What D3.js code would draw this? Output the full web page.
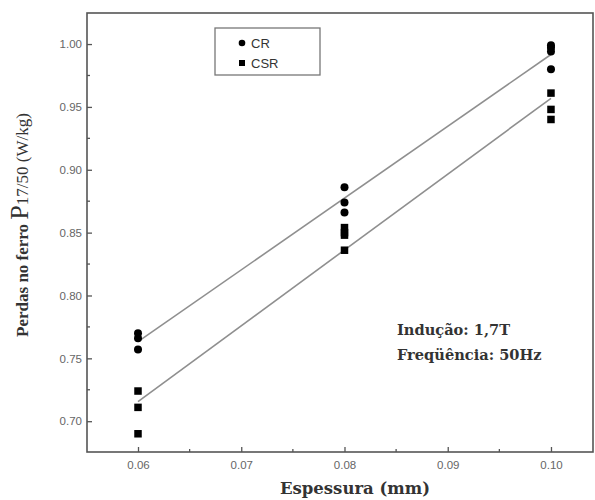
<!DOCTYPE html>
<html>
<head>
<meta charset="utf-8">
<script src="https://cdn.jsdelivr.net/npm/d3@7"></script>
<style>
  html, body { margin: 0; padding: 0; background: #fff; }
  svg { display: block; }
</style>
</head>
<body>
<script>
// Thickness (mm) at which each lamination group was measured
const thicknessCR  = [0.06, 0.06, 0.06, 0.08, 0.08, 0.08, 0.10, 0.10, 0.10, 0.10];
const lossCR       = [0.770, 0.766, 0.757, 0.886, 0.874, 0.866, 0.999, 0.997, 0.994, 0.980];
const thicknessCSR = [0.06, 0.06, 0.06, 0.08, 0.08, 0.08, 0.08, 0.10, 0.10, 0.10];
const lossCSR      = [0.724, 0.711, 0.690, 0.854, 0.850, 0.848, 0.836, 0.961, 0.948, 0.940];

const xTicks = [0.06, 0.07, 0.08, 0.09, 0.10];
const yTicks = [0.70, 0.75, 0.80, 0.85, 0.90, 0.95, 1.00];
const seriesNames = ["CR", "CSR"];

const W = 595, H = 500;
const plot = { left: 87, right: 593, top: 13, bottom: 452 };

const svg = d3.select("body").append("svg").attr("width", W).attr("height", H);

const x = d3.scaleLinear().domain([0.05506, 0.10407]).range([plot.left, plot.right]);
const y = d3.scaleLinear().domain([0.6755, 1.0247]).range([plot.bottom, plot.top]);

const axisColor = "#555";

// least-squares line through a series
function fit(xs, ys) {
  const mx = d3.mean(xs), my = d3.mean(ys);
  let sxy = 0, sxx = 0;
  for (let i = 0; i < xs.length; i++) { sxy += (xs[i] - mx) * (ys[i] - my); sxx += (xs[i] - mx) ** 2; }
  const b = sxy / sxx;
  return v => my + b * (v - mx);
}

// fitted lines
[[thicknessCR, lossCR], [thicknessCSR, lossCSR]].forEach(([xs, ys]) => {
  const f = fit(xs, ys);
  const x0 = d3.min(xs), x1 = d3.max(xs);
  svg.append("line")
    .attr("x1", x(x0)).attr("y1", y(f(x0)))
    .attr("x2", x(x1)).attr("y2", y(f(x1)))
    .attr("stroke", "#8f8f8f").attr("stroke-width", 1.6);
});

// CR points (circles)
svg.append("g").selectAll("circle")
  .data(lossCR.map((v, i) => [thicknessCR[i], v]))
  .join("circle")
  .attr("cx", d => x(d[0])).attr("cy", d => y(d[1]))
  .attr("r", 4).attr("fill", "#000");

// CSR points (squares)
const sq = 7.5;
svg.append("g").selectAll("rect")
  .data(lossCSR.map((v, i) => [thicknessCSR[i], v]))
  .join("rect")
  .attr("x", d => x(d[0]) - sq / 2).attr("y", d => y(d[1]) - sq / 2)
  .attr("width", sq).attr("height", sq).attr("fill", "#000");

// frame
svg.append("rect")
  .attr("x", plot.left).attr("y", plot.top)
  .attr("width", plot.right - plot.left).attr("height", plot.bottom - plot.top)
  .attr("fill", "none").attr("stroke", axisColor).attr("stroke-width", 1.6);

const tickFont = sel => sel.attr("fill", "#666")
  .style("font-family", "Liberation Sans, Arial, sans-serif").style("font-size", "11.5px");

// x axis (ticks pointing inward)
const xAxis = d3.axisBottom(x).tickValues(xTicks).tickFormat(d3.format(".2f"))
  .tickSizeInner(-5).tickSizeOuter(0).tickPadding(9);
const gx = svg.append("g").attr("transform", `translate(0,${plot.bottom})`).call(xAxis);
gx.select(".domain").remove();
gx.selectAll("line").attr("stroke", axisColor).attr("stroke-width", 1.3);
gx.selectAll("text").call(tickFont);

const xMinor = [0.065, 0.075, 0.085, 0.095];
svg.append("g").selectAll("line").data(xMinor).join("line")
  .attr("x1", d => x(d)).attr("x2", d => x(d))
  .attr("y1", plot.bottom).attr("y2", plot.bottom - 3)
  .attr("stroke", axisColor).attr("stroke-width", 1.3);

// y axis
const yAxis = d3.axisLeft(y).tickValues(yTicks).tickFormat(d3.format(".2f"))
  .tickSizeInner(-5).tickSizeOuter(0).tickPadding(5);
const gy = svg.append("g").attr("transform", `translate(${plot.left},0)`).call(yAxis);
gy.select(".domain").remove();
gy.selectAll("line").attr("stroke", axisColor).attr("stroke-width", 1.3);
gy.selectAll("text").call(tickFont);

const yMinor = [0.725, 0.775, 0.825, 0.875, 0.925, 0.975];
svg.append("g").selectAll("line").data(yMinor).join("line")
  .attr("x1", plot.left).attr("x2", plot.left + 3)
  .attr("y1", d => y(d)).attr("y2", d => y(d))
  .attr("stroke", axisColor).attr("stroke-width", 1.3);

// axis titles
svg.append("text")
  .attr("x", 355).attr("y", 494)
  .attr("text-anchor", "middle")
  .attr("fill", "#333")
  .style("font-family", "DejaVu Serif, serif").style("font-weight", "bold").style("font-size", "16.5px")
  .text("Espessura (mm)");

const yt = svg.append("text")
  .attr("transform", "translate(28,225) rotate(-90)")
  .attr("text-anchor", "middle")
  .attr("fill", "#333")
  .style("font-family", "Liberation Serif, serif");
yt.append("tspan").style("font-weight", "bold").style("font-size", "17px").text("Perdas no ferro ");
yt.append("tspan").style("font-size", "26px").text("P");
yt.append("tspan").style("font-size", "17px").text("17/50 (W/kg)");

// legend
const lg = svg.append("g");
lg.append("rect").attr("x", 215).attr("y", 28).attr("width", 105).attr("height", 47)
  .attr("fill", "#fff").attr("stroke", "#777").attr("stroke-width", 1.3);
lg.append("circle").attr("cx", 242).attr("cy", 43).attr("r", 3.3).attr("fill", "#000");
lg.append("rect").attr("x", 239).attr("y", 60).attr("width", 6).attr("height", 6).attr("fill", "#000");
lg.selectAll("text.lbl").data(seriesNames).join("text")
  .attr("class", "lbl")
  .attr("x", 251).attr("y", (d, i) => 47.5 + i * 20)
  .attr("fill", "#333")
  .style("font-family", "Liberation Sans, Arial, sans-serif").style("font-size", "13px")
  .text(d => d);

// test conditions
const note = svg.append("g")
  .attr("fill", "#333")
  .style("font-family", "DejaVu Serif, serif").style("font-weight", "bold").style("font-size", "14.6px");
note.append("text").attr("x", 397).attr("y", 335).text("Indução: 1,7T");
note.append("text").attr("x", 397).attr("y", 360).text("Freqüência: 50Hz");
</script>
</body>
</html>
